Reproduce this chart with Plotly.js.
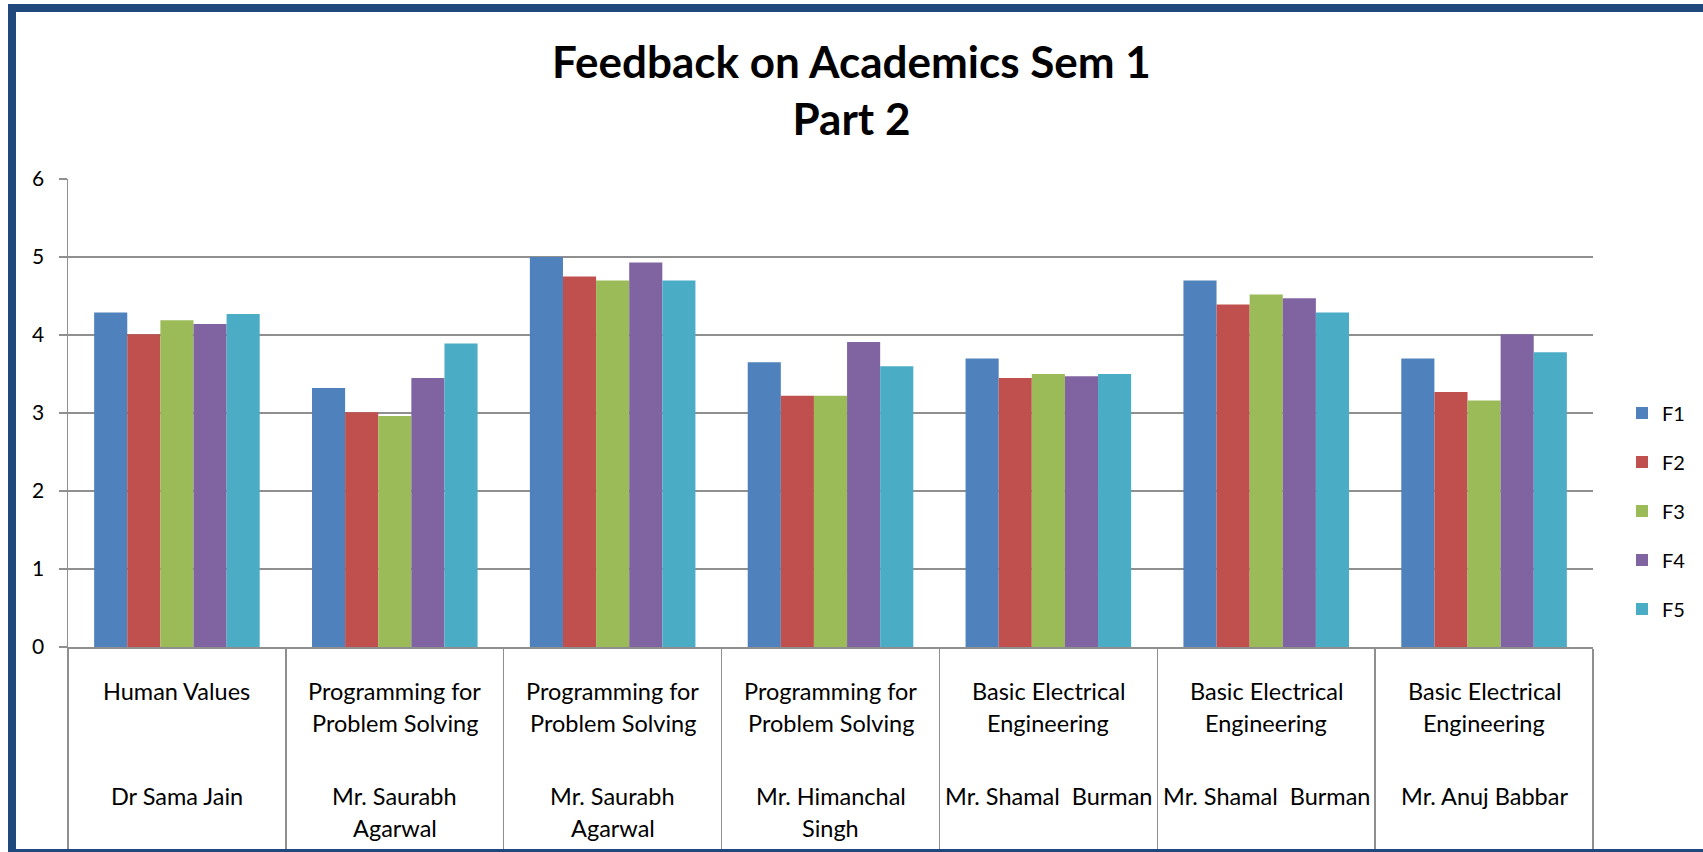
<!DOCTYPE html>
<html>
<head>
<meta charset="utf-8">
<script src="https://cdn.plot.ly/plotly-3.0.1.min.js"></script>
<style>
  html, body { margin: 0; padding: 0; background: #ffffff; }
  #chart { width: 1703px; height: 852px; }
</style>
</head>
<body>
<div id="chart"></div>
<script>
// ---- data ----
const subjects = [
  "Human Values",
  "Programming for\nProblem Solving",
  "Programming for\nProblem Solving",
  "Programming for\nProblem Solving",
  "Basic Electrical\nEngineering",
  "Basic Electrical\nEngineering",
  "Basic Electrical\nEngineering"
];
const teachers = [
  "Dr Sama Jain",
  "Mr. Saurabh\nAgarwal",
  "Mr. Saurabh\nAgarwal",
  "Mr. Himanchal\nSingh",
  "Mr. Shamal\u00a0 Burman",
  "Mr. Shamal\u00a0 Burman",
  "Mr. Anuj Babbar"
];
const seriesNames = ["F1", "F2", "F3", "F4", "F5"];
const F1 = [4.29, 3.32, 5.00, 3.65, 3.70, 4.70, 3.70];
const F2 = [4.01, 3.01, 4.75, 3.22, 3.45, 4.39, 3.27];
const F3 = [4.19, 2.96, 4.70, 3.22, 3.50, 4.52, 3.16];
const F4 = [4.14, 3.45, 4.93, 3.91, 3.47, 4.47, 4.01];
const F5 = [4.27, 3.89, 4.70, 3.60, 3.50, 4.29, 3.78];
const yTicks = [0, 1, 2, 3, 4, 5, 6];

// ---- style ----
const colors = ["#4F81BD", "#C0504D", "#9BBB59", "#8064A2", "#4BACC6"];
const FONT = "Lato, 'Open Sans', 'DejaVu Sans', sans-serif";
const GRID = "#8f8f8f";

// pixel geometry helpers
const W = 1703, H = 852;
const M = { l: 68, r: 110, t: 179, b: 205 };
const PW = W - M.l - M.r, PH = H - M.t - M.b;
const px2x = p => (p - M.l) / PW;
const px2y = p => (H - M.b - p) / PH;

const xIdx = subjects.map((_, i) => i);
const allSeries = [F1, F2, F3, F4, F5];

const traces = allSeries.map((vals, k) => ({
  type: "bar",
  name: seriesNames[k],
  legendgroup: "g" + k,
  x: xIdx,
  y: vals,
  marker: { color: colors[k], line: { width: 0 } },
  hoverinfo: "skip"
}));

const annotations = [];
const lineGap = 32;
const LABEL_SIZE = 23.5;
subjects.forEach((s, i) => {
  s.split("\n").forEach((line, j) => {
    annotations.push({
      xref: "x", yref: "paper", x: i, y: px2y(691 + j * lineGap),
      text: line, showarrow: false, xanchor: "center", yanchor: "middle",
      font: { family: FONT, size: LABEL_SIZE, color: "#000" }
    });
  });
});
teachers.forEach((t, i) => {
  t.split("\n").forEach((line, j) => {
    annotations.push({
      xref: "x", yref: "paper", x: i, y: px2y(796 + j * lineGap),
      text: line, showarrow: false, xanchor: "center", yanchor: "middle",
      font: { family: FONT, size: LABEL_SIZE, color: "#000" }
    });
  });
});

const layout = {
  width: W, height: H,
  margin: M,
  paper_bgcolor: "#ffffff",
  plot_bgcolor: "#ffffff",
  font: { family: FONT, color: "#000" },
  title: {
    text: "<b>Feedback on Academics Sem 1<br>Part 2</b>",
    font: { family: FONT, size: 44, color: "#000" },
    x: 0.5, xanchor: "center", xref: "container",
    y: 1 - 78 / H, yanchor: "top", yref: "container"
  },
  barmode: "group",
  bargap: 0.24,
  bargroupgap: 0,
  xaxis: {
    type: "linear",
    range: [-0.5, subjects.length - 0.5],
    tickmode: "array",
    tickvals: subjects.map((_, i) => i - 0.5).concat([subjects.length - 0.5]),
    showticklabels: false,
    ticks: "outside", ticklen: 200, tickwidth: 1.5, tickcolor: GRID,
    showline: true, linecolor: GRID, linewidth: 1.5,
    showgrid: false, zeroline: false, fixedrange: true
  },
  yaxis: {
    range: [0, 6],
    tickmode: "array", tickvals: yTicks, ticktext: yTicks.map(String),
    ticks: "outside", ticklen: 8, tickwidth: 1.5, tickcolor: GRID,
    ticklabelstandoff: 10,
    tickfont: { family: FONT, size: 21, color: "#000" },
    showline: true, linecolor: GRID, linewidth: 1.5,
    showgrid: true, gridcolor: GRID, gridwidth: 1.5,
    zeroline: false, fixedrange: true
  },
  showlegend: true,
  legend: {
    x: px2x(1622), xanchor: "left",
    y: px2y(511), yanchor: "middle",
    traceorder: "grouped",
    tracegroupgap: 20,
    font: { family: FONT, size: 20, color: "#000" },
    bgcolor: "rgba(0,0,0,0)"
  },
  annotations: annotations,
  shapes: [{
    type: "rect", xref: "paper", yref: "paper",
    x0: px2x(12), x1: px2x(1720), y0: px2y(853), y1: px2y(8),
    line: { color: "#1F497D", width: 8 }, fillcolor: "rgba(0,0,0,0)", layer: "above"
  }]
};

Plotly.newPlot("chart", traces, layout, { displayModeBar: false, staticPlot: true });
</script>
</body>
</html>
